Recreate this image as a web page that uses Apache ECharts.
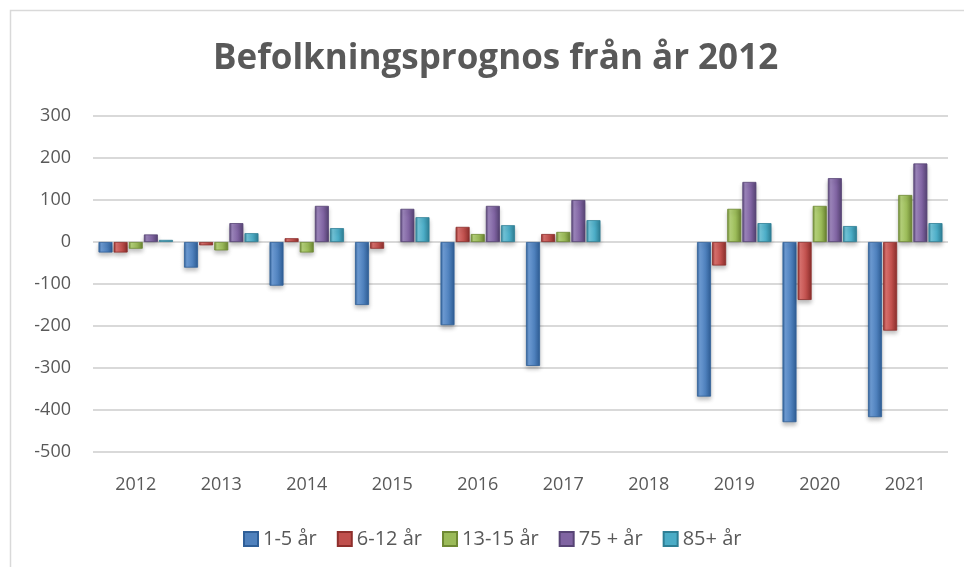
<!DOCTYPE html>
<html>
<head>
<meta charset="utf-8">
<script src="https://cdn.jsdelivr.net/npm/echarts@6/dist/echarts.min.js"></script>
<style>html,body{margin:0;padding:0;background:#fff;}#c{width:964px;height:567px;}</style>
</head>
<body>
<div id="c"></div>
<script>
const categories = ['2012','2013','2014','2015','2016','2017','2018','2019','2020','2021'];
const seriesNames = ['1-5 år','6-12 år','13-15 år','75 + år','85+ år'];
const s1_5 = [-25, -61, -104, -150, -198, -295, null, -368, -429, -417];
const s6_12 = [-25, -8, 9, -16, 36, 19, null, -56, -138, -211];
const s13_15 = [-16, -20, -25, null, 19, 24, null, 79, 86, 112];
const s75 = [18, 45, 86, 79, 86, 100, null, 143, 152, 187];
const s85 = [5, 21, 33, 59, 40, 52, null, 45, 38, 45];
const yTicks = [-500, -400, -300, -200, -100, 0, 100, 200, 300];

const colors = [
  ['#2f5f98','#4f81bd','#6d9bd3'],
  ['#8e2f2c','#c0504d','#d9716e'],
  ['#6f8a34','#9bbb59','#b5d27a'],
  ['#574475','#8064a2','#9c85bb'],
  ['#2e7f95','#4bacc6','#72c4d8']
];
function grad(c){
  return new echarts.graphic.LinearGradient(0,0,1,0,[
    {offset:0,color:c[0]},{offset:0.2,color:c[2]},{offset:0.6,color:c[1]},{offset:1,color:c[0]}
  ]);
}
const data = [s1_5, s6_12, s13_15, s75, s85];
const chart = echarts.init(document.getElementById('c'), null, {renderer:'canvas'});
chart.setOption({
  animation:false,
  backgroundColor:'#fff',
  title:{text:'Befolkningsprognos från år 2012', left:208, top:37,
    textStyle:{fontFamily:'Open Sans', fontSize:35, fontWeight:'bold', color:'#595959'}},
  legend:{bottom:13, left:238, itemWidth:14, itemHeight:14, itemGap:20,
    textStyle:{fontFamily:'Open Sans', fontSize:20, color:'#595959'},
    data: seriesNames.map((n,i)=>({name:n, icon:'rect', itemStyle:{color:colors[i][1]}}))},
  grid:{left:93, right:16, top:116, bottom:115, containLabel:false},
  xAxis:{type:'category', data:categories, position:'bottom',
    axisLine:{show:false}, axisTick:{show:false},
    axisLabel:{fontFamily:'Open Sans', fontSize:18, color:'#595959', margin:24},
    offset:0},
  yAxis:{type:'value', min:-500, max:300, interval:100,
    axisLine:{show:false}, axisTick:{show:false},
    axisLabel:{fontFamily:'Open Sans', fontSize:18, color:'#595959', margin:22,
      formatter:(v)=> yTicks.includes(v) ? String(v) : ''},
    splitLine:{lineStyle:{color:'#d9d9d9', width:2}}},
  graphic:[{type:'rect', shape:{x:10.5,y:10.5,width:980,height:580},
    style:{fill:'none', stroke:'#d9d9d9', lineWidth:1.5}, silent:true}],
  series: data.map((d,i)=>({
    name:seriesNames[i], type:'bar', data:d, barWidth:14, barGap:'8%',
    itemStyle:{color:grad(colors[i]), borderColor:colors[i][0], borderWidth:0.8,
      shadowColor:'rgba(0,0,0,0.25)', shadowBlur:4, shadowOffsetY:3}
  }))
});
</script>
</body>
</html>
